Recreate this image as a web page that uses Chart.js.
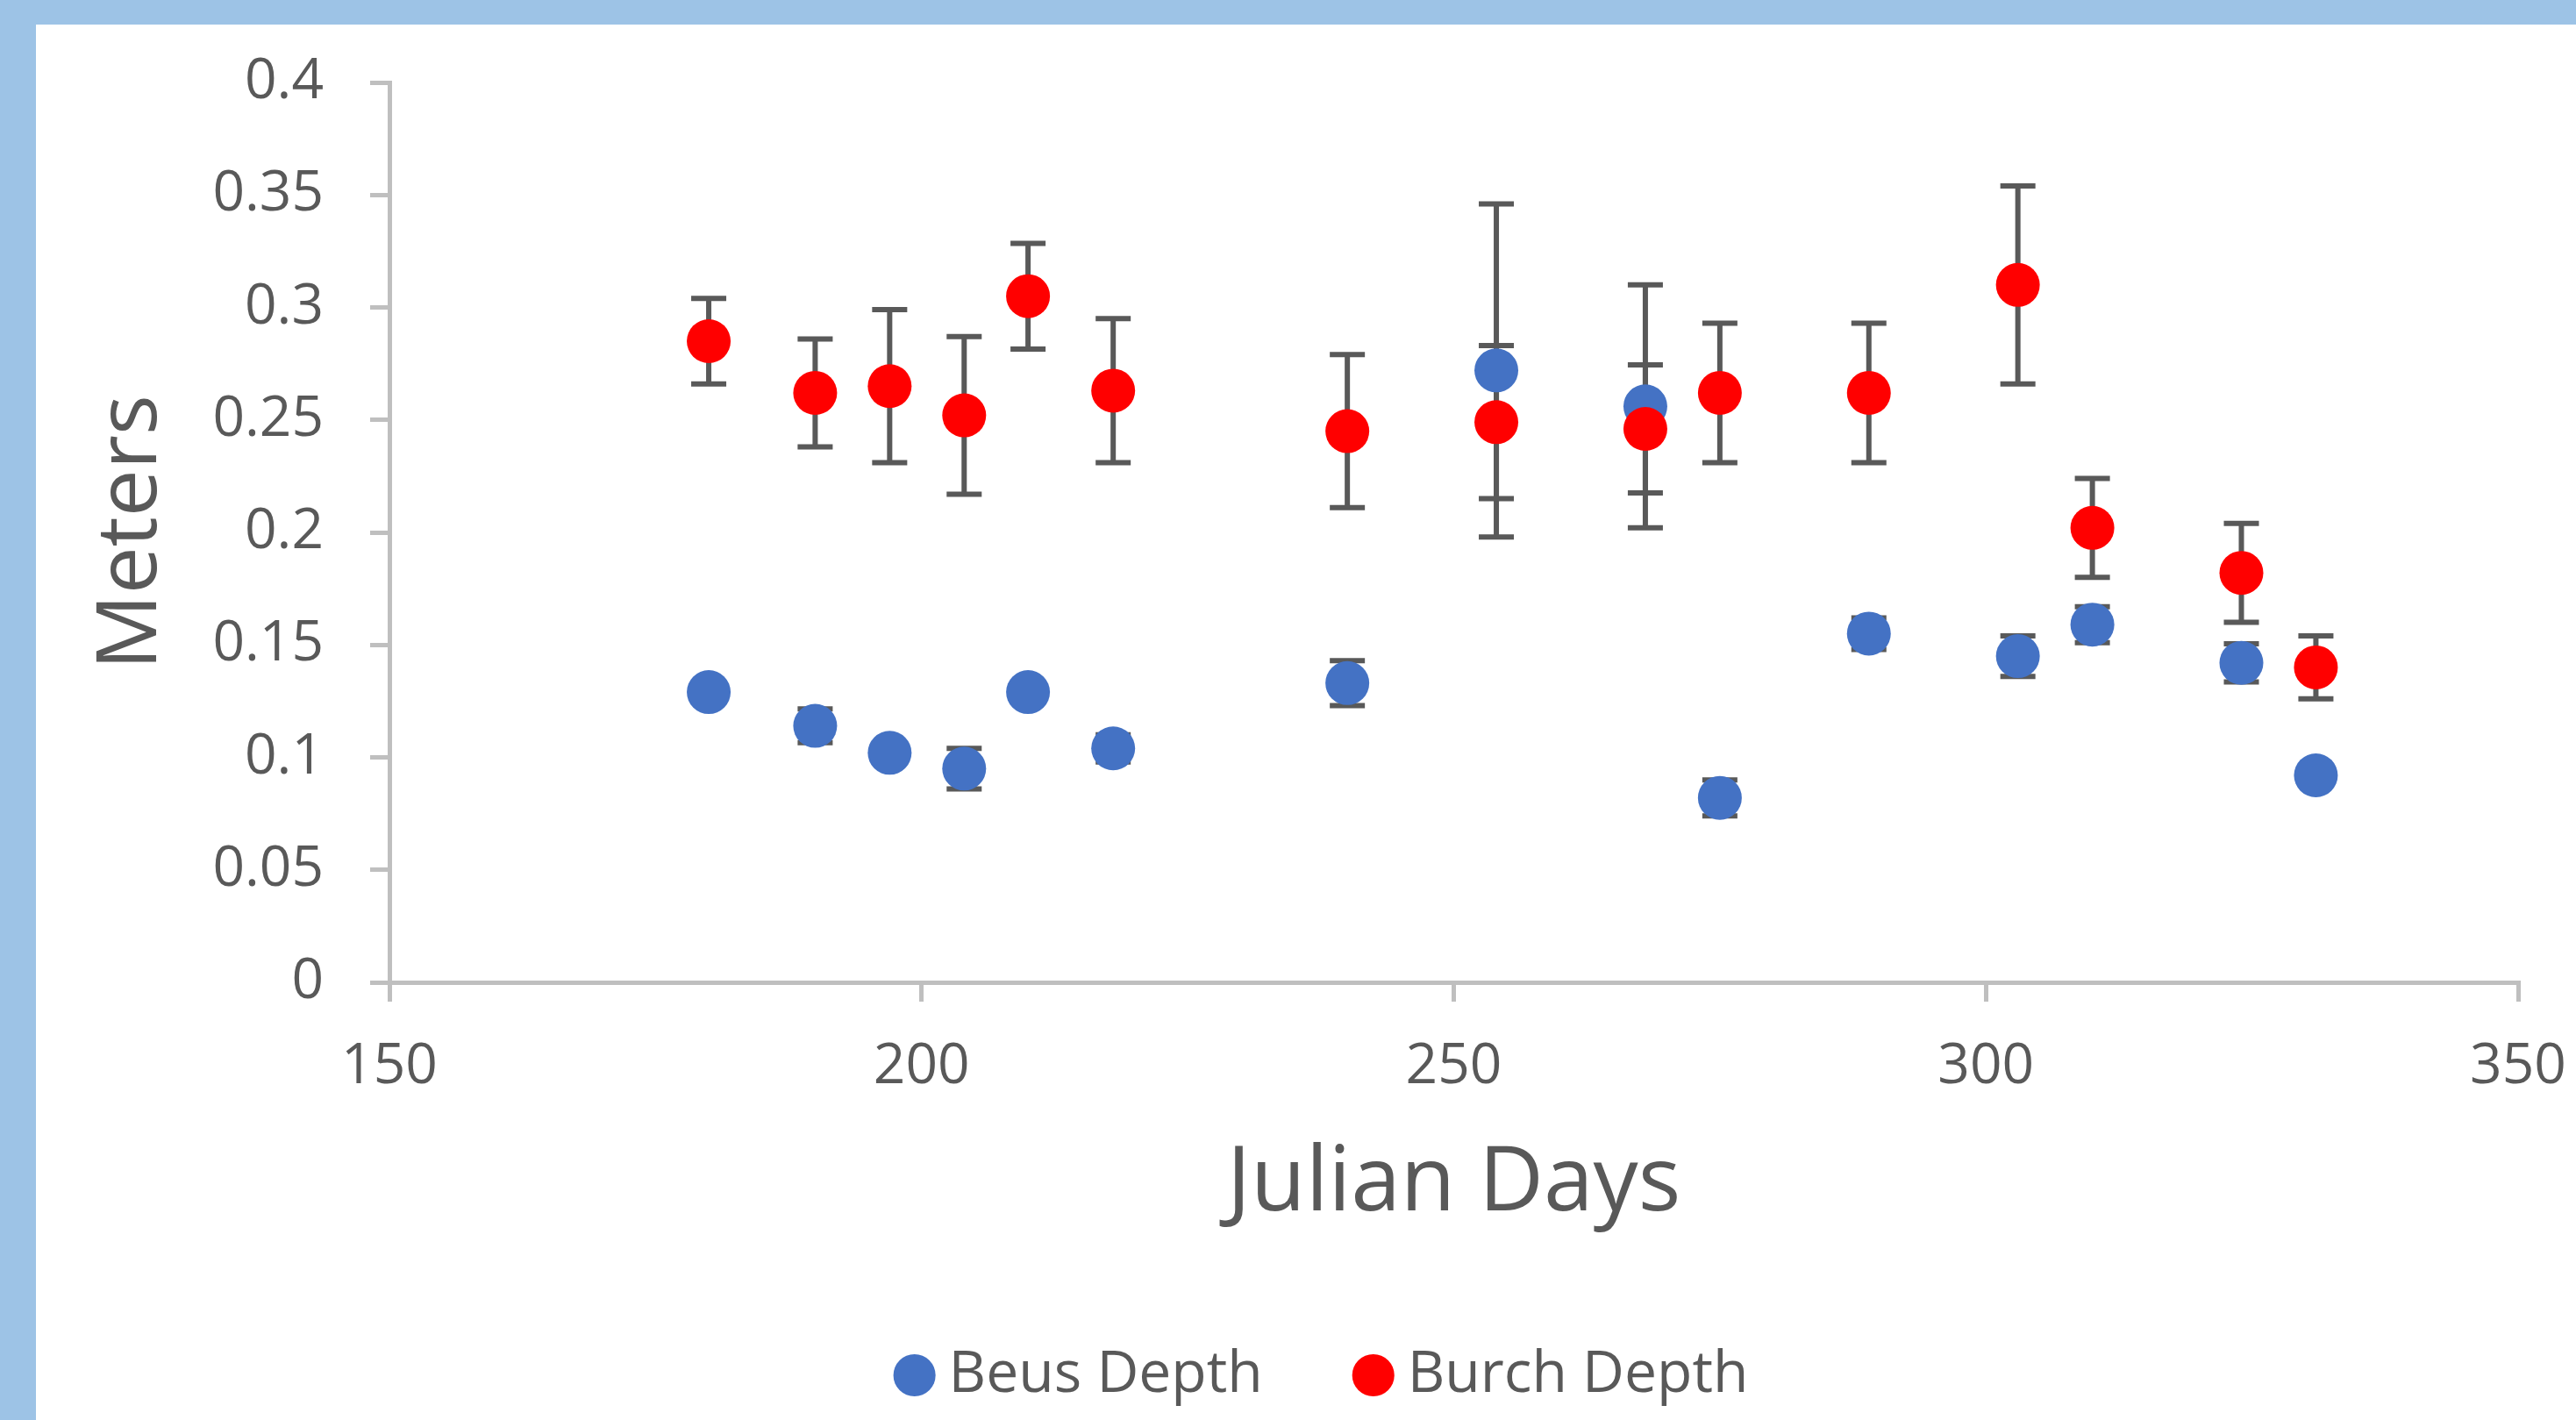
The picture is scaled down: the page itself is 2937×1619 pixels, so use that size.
<!DOCTYPE html>
<html>
<head>
<meta charset="utf-8">
<script src="https://cdn.jsdelivr.net/npm/chart.js@4.4.1/dist/chart.umd.min.js"></script>
<style>
  html, body { margin: 0; padding: 0; background: #9DC3E6; overflow: hidden; }
  #panel { position: absolute; left: 41px; top: 28px; width: 3100px; height: 1700px; background: #fff; }
  #wrap { position: absolute; left: 0; top: 0; width: 2930px; height: 1583px; }
</style>
</head>
<body>
<div id="panel"><div id="wrap"><canvas id="chart"></canvas></div></div>
<script>
// values
const julianDays = [180, 190, 197, 204, 210, 218, 240, 254, 268, 275, 289, 303, 310, 324, 331]
const beusDepth  = [0.129, 0.114, 0.102, 0.095, 0.129, 0.104, 0.133, 0.272, 0.256, 0.082, 0.155, 0.145, 0.159, 0.142, 0.092]
const beusErr    = [0.003, 0.0075, 0.004, 0.009, 0.003, 0.006, 0.010, 0.074, 0.054, 0.008, 0.007, 0.009, 0.008, 0.0085, 0.003]
const burchDepth = [0.285, 0.262, 0.265, 0.252, 0.305, 0.263, 0.245, 0.249, 0.246, 0.262, 0.262, 0.310, 0.202, 0.182, 0.140]
const burchErr   = [0.019, 0.024, 0.034, 0.035, 0.0235, 0.032, 0.034, 0.034, 0.0285, 0.031, 0.031, 0.044, 0.022, 0.022, 0.014]
const xTicks = [150, 200, 250, 300, 350]
const yTicks = [0, 0.05, 0.1, 0.15, 0.2, 0.25, 0.3, 0.35, 0.4]

const textColor = "#595959"
const axisColor = "#BFBFBF"
Chart.defaults.font.family = "'Open Sans', sans-serif"
Chart.defaults.color = textColor

const toPoints = (ys) => julianDays.map((d, i) => ({ x: d, y: ys[i] }))

// Excel-style symmetric error bars, drawn under the markers
const errorBars = {
  id: "errorBars",
  beforeDatasetsDraw(chart) {
    const { ctx, scales: { x, y } } = chart
    ctx.save()
    ctx.strokeStyle = "#595959"
    ctx.lineWidth = 6
    chart.data.datasets.forEach(ds => {
      ds.data.forEach((p, i) => {
        const e = ds.errors[i]
        const px = x.getPixelForValue(p.x)
        const top = y.getPixelForValue(p.y + e)
        const bot = y.getPixelForValue(p.y - e)
        ctx.beginPath()
        ctx.moveTo(px, top); ctx.lineTo(px, bot)
        ctx.moveTo(px - 20, top); ctx.lineTo(px + 20, top)
        ctx.moveTo(px - 20, bot); ctx.lineTo(px + 20, bot)
        ctx.stroke()
      })
    })
    ctx.restore()
  }
}

// the legend sits a little right of the canvas centre in the original
const legendShift = {
  id: "legendShift",
  afterLayout(chart) {
    chart.legend.left += 59
    chart.legend.right += 59
  }
}

const config = {
  type: "scatter",
  data: {
    datasets: [
      { label: "Beus Depth", data: toPoints(beusDepth), errors: beusErr, backgroundColor: "#4472C4", borderWidth: 0, pointRadius: 25, order: 1 },
      { label: "Burch Depth", data: toPoints(burchDepth), errors: burchErr, backgroundColor: "#FF0000", borderWidth: 0, pointRadius: 25, order: 0 }
    ]
  },
  options: {
    responsive: true,
    maintainAspectRatio: false,
    devicePixelRatio: 1,
    animation: false,
    layout: { padding: { top: 66, right: 100, left: 0, bottom: 0 } },
    plugins: {
      tooltip: { enabled: false },
      legend: {
        position: "bottom",
        labels: {
          usePointStyle: true,
          pointStyle: "circle",
          boxWidth: 12,
          boxHeight: 34,
          padding: 120,
          color: textColor,
          font: { size: 66 },
          sort: (a, b) => a.datasetIndex - b.datasetIndex
        }
      }
    },
    scales: {
      x: {
        type: "linear",
        min: 150,
        max: 350,
        afterBuildTicks: (s) => { s.ticks = xTicks.map(v => ({ value: v })) },
        afterFit: (s) => { s.height = 295; s.paddingLeft = 0; s.paddingRight = 0 },
        grid: { drawOnChartArea: false, color: axisColor, lineWidth: 5, tickLength: 22 },
        border: { color: axisColor, width: 5 },
        ticks: { color: textColor, font: { size: 64 }, padding: 36, maxRotation: 0 },
        title: { display: true, text: "Julian Days", color: textColor, font: { size: 102 }, padding: { top: 0, bottom: 3 } }
      },
      y: {
        type: "linear",
        min: 0,
        max: 0.4,
        afterBuildTicks: (s) => { s.ticks = yTicks.map(v => ({ value: v })) },
        afterFit: (s) => { s.width = 403; s.paddingTop = 0; s.paddingBottom = 0 },
        grid: { drawOnChartArea: false, color: axisColor, lineWidth: 5, tickLength: 22 },
        border: { color: axisColor, width: 5 },
        ticks: { color: textColor, font: { size: 64 }, padding: 53, callback: (v) => String(Number(v.toFixed(2))) },
        title: { display: true, text: "Meters", color: textColor, font: { size: 96 }, padding: { top: 52 } }
      }
    }
  },
  plugins: [errorBars, legendShift]
}

new Chart(document.getElementById("chart"), config)
</script>
</body>
</html>
